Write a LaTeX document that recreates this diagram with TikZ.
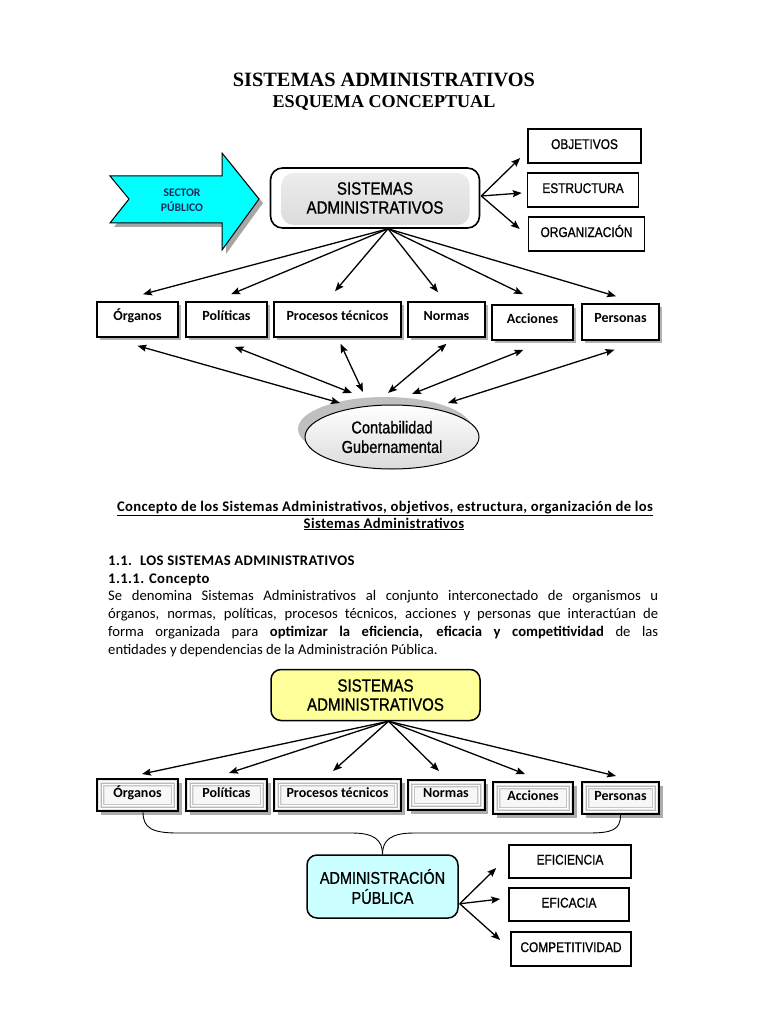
\documentclass[tikz,border=0pt]{standalone}
\usepackage{fontspec}
\setmainfont{Carlito}
\newfontfamily\nar[FakeStretch=0.85,FakeBold=0.9]{Liberation Sans}
\newfontfamily\ser{Liberation Serif}
\usetikzlibrary{arrows.meta,calc,shapes.geometric,shadows}
\definecolor{cyanA}{HTML}{00FFFF}
\definecolor{yelA}{HTML}{FFFF99}
\definecolor{cyanB}{HTML}{CCFFFF}
\definecolor{navyA}{HTML}{1F2A5C}
\pgfdeclareverticalshading{boxsh}{100bp}{color(0bp)=(white); color(4bp)=(white); color(12bp)=(gray!32); color(60bp)=(gray!18); color(100bp)=(gray!5)}
\begin{document}
\begin{tikzpicture}[x=1pt,y=-1pt,
  tarr/.style={line width=1.3pt,-{Stealth[length=9pt,width=7pt,inset=1.5pt]}},
  barr/.style={line width=1.3pt,{Stealth[length=9pt,width=7pt,inset=1.5pt]}-{Stealth[length=9pt,width=7pt,inset=1.5pt]}},
  rbox/.style={draw,line width=1.6pt,fill=white,inner sep=0pt,font=\nar\fontsize{14}{16}\selectfont,text height=10pt,text depth=4pt},
  sbox/.style={draw,line width=1.5pt,fill=white,inner sep=0pt,font=\bfseries\fontsize{14}{16}\selectfont,
    text height=10pt,text depth=9pt,
    drop shadow={shadow xshift=3pt,shadow yshift=-3pt,fill=gray!60,opacity=1}},
  bbox/.style={draw,line width=2pt,fill=gray!22,inner sep=0pt,font=\bfseries\fontsize{14}{16}\selectfont,
    text height=10pt,text depth=5pt,
    drop shadow={shadow xshift=3.5pt,shadow yshift=-3.5pt,fill=gray!65,opacity=1},
    path picture={
      \draw[white,line width=1pt] ([shift={(2.5pt,2.5pt)}]path picture bounding box.south west) rectangle ([shift={(-2.5pt,-2.5pt)}]path picture bounding box.north east);
      \draw[gray!55,line width=0.8pt] ([shift={(4pt,4pt)}]path picture bounding box.south west) rectangle ([shift={(-4pt,-4pt)}]path picture bounding box.north east);
      \draw[white,line width=0.8pt] ([shift={(5.4pt,5.4pt)}]path picture bounding box.south west) rectangle ([shift={(-5.4pt,-5.4pt)}]path picture bounding box.north east);
      \draw[gray!45,line width=0.8pt] ([shift={(6.8pt,6.8pt)}]path picture bounding box.south west) rectangle ([shift={(-6.8pt,-6.8pt)}]path picture bounding box.north east);
      \fill[gray!6] ([shift={(7.5pt,7.5pt)}]path picture bounding box.south west) rectangle ([shift={(-7.5pt,-7.5pt)}]path picture bounding box.north east);
    }},
  bigtxt/.style={font=\nar\fontsize{17.7}{19}\selectfont,align=center},
  bodytxt/.style={font=\fontsize{14.67}{18}\selectfont,inner sep=0pt},
  headtxt/.style={font=\bfseries\fontsize{14.67}{18}\selectfont\addfontfeature{LetterSpace=2.6},inner sep=0pt}
]
\fill[white] (0,0) rectangle (768,1024);
\useasboundingbox (0,0) rectangle (768,1024);

% ---------- titles
\node[font=\ser\bfseries\fontsize{20.3}{24}\selectfont,anchor=base,inner sep=0pt] (t1) at (384,87) {SISTEMAS ADMINISTRATIVOS};
\node[font=\ser\bfseries\fontsize{18.1}{22}\selectfont,anchor=base,inner sep=0pt] (t2) at (384,108) {ESQUEMA CONCEPTUAL};

% ---------- cyan arrow
\fill[gray!70,shift={(4,4)}] (110,176) -- (222,176) -- (222,153) -- (259,199) -- (222,250) -- (222,223) -- (110,223) -- (129,199) -- cycle;
\draw[fill=cyanA,line width=1pt] (110,176) -- (222,176) -- (222,153) -- (259,199) -- (222,250) -- (222,223) -- (110,223) -- (129,199) -- cycle;
\node[font=\bfseries\fontsize{11.6}{15}\selectfont,text=navyA,align=center] (sector) at (182,200) {SECTOR\\PÚBLICO};

% ---------- top box
\node[draw,line width=1.6pt,rounded corners=12pt,fill=white,minimum width=209pt,minimum height=60pt,inner sep=0pt,
  path picture={\shade[shading=boxsh] ([shift={(11pt,-5pt)}]path picture bounding box.north west) rectangle ([shift={(-10pt,3pt)}]path picture bounding box.south east);},
  bigtxt] (sa1) at (375,198) {SISTEMAS\\ADMINISTRATIVOS};

\node[rbox,minimum width=113pt,minimum height=34pt] (obj) at (584.5,146) {OBJETIVOS};
\node[rbox,minimum width=111pt,minimum height=34pt] (est) at (583,190) {ESTRUCTURA};
\node[rbox,minimum width=116pt,minimum height=34pt] (org) at (586.5,234) {ORGANIZACIÓN};

\coordinate (hubR) at ($(sa1.east)+(1,-2)$);
\draw[tarr] (hubR) -- ($(obj.west)+(-7,12)$);
\draw[tarr] (hubR) -- ($(est.west)+(-5,3)$);
\draw[tarr] (hubR) -- ($(org.west)+(-8,-5)$);

% ---------- row 1
\node[sbox,minimum width=81pt,minimum height=35pt] (org1) at (137.5,319.5) {Órganos};
\node[sbox,minimum width=81pt,minimum height=35pt] (pol1) at (226.5,319.5) {Políticas};
\node[sbox,minimum width=127pt,minimum height=35pt] (pro1) at (337.5,319.5) {Procesos técnicos};
\node[sbox,minimum width=77pt,minimum height=35pt] (nor1) at (446.5,319.5) {Normas};
\node[sbox,minimum width=81pt,minimum height=35pt] (acc1) at (532.5,322.5) {Acciones};
\node[sbox,minimum width=77pt,minimum height=36pt] (per1) at (620.5,322) {Personas};

\coordinate (hub1) at ($(sa1.south)+(13,0)$);
\draw[tarr] (hub1) -- ($(org1.north)+(5.5,-7)$);
\draw[tarr] (hub1) -- ($(pol1.north)+(4.5,-7)$);
\draw[tarr] (hub1) -- ($(pro1.north)+(-2.5,-10)$);
\draw[tarr] (hub1) -- ($(nor1.north)+(-8.5,-9)$);
\draw[tarr] (hub1) -- ($(acc1.north)+(-9.5,-10)$);
\draw[tarr] (hub1) -- ($(per1.north)+(-4.5,-7)$);

% ---------- ellipse
\node[ellipse,fill=gray!50,minimum width=174pt,minimum height=64pt,inner sep=0pt] (cgs) at (385,429) {};
\node[ellipse,draw,line width=1pt,top color=white,bottom color=gray!28,minimum width=174pt,minimum height=64pt,inner sep=0pt,
  font=\nar\fontsize{17.2}{19.5}\selectfont,align=center] (cg) at (392,437) {Contabilidad\\Gubernamental};

\draw[barr] ($(org1.south)+(0,8)$) -- ($(cg.center)+(-52,-34)$);
\draw[barr] ($(pol1.south)+(8,9)$) -- ($(cg.center)+(-40,-44)$);
\draw[barr] ($(pro1.south)+(3,6)$) -- ($(cg.center)+(-29,-45)$);
\draw[barr] ($(nor1.south)+(0,6)$) -- ($(cg.center)+(-4,-44)$);
\draw[barr] ($(acc1.south)+(-9,9)$) -- ($(cg.center)+(20,-43)$);
\draw[barr] ($(per1.south)+(-6,9)$) -- ($(cg.center)+(56,-34)$);

% ---------- text
\node[headtxt,anchor=base] (h1) at (385,511) {\underline{Concepto de los Sistemas Administrativos, objetivos, estructura, organización de los}};
\node[headtxt,anchor=base] (h2) at (384,528) {\underline{Sistemas Administrativos}};
\node[headtxt,anchor=base west] (s1) at (108,565) {1.1.\hspace{8pt}LOS SISTEMAS ADMINISTRATIVOS};
\node[headtxt,anchor=base west] (s2) at (108,583) {1.1.1. Concepto};
\node[bodytxt,anchor=base west] (p1) at (108,600) {\makebox[550pt][s]{Se denomina Sistemas Administrativos al conjunto interconectado de organismos u}};
\node[bodytxt,anchor=base west] (p2) at (108,618.3) {\makebox[550pt][s]{órganos, normas, políticas, procesos técnicos, acciones y personas que interactúan de}};
\node[bodytxt,anchor=base west] (p3) at (108,636.6) {\makebox[550pt][s]{forma organizada para \textbf{optimizar la eficiencia, eficacia y competitividad} de las}};
\node[bodytxt,anchor=base west] (p4) at (108,654.9) {entidades y dependencias de la Administración Pública.};

% ---------- second diagram
\node[draw,line width=1.5pt,rounded corners=10pt,fill=yelA,minimum width=209pt,minimum height=51pt,inner sep=0pt,bigtxt] (sa2) at (375.5,695) {SISTEMAS\\ADMINISTRATIVOS};

\node[bbox,minimum width=81pt,minimum height=32pt] (org2) at (137.5,795) {Órganos};
\node[bbox,minimum width=81pt,minimum height=32pt] (pol2) at (226.5,795) {Políticas};
\node[bbox,minimum width=127pt,minimum height=32pt] (pro2) at (337.5,795) {Procesos técnicos};
\node[bbox,minimum width=77pt,minimum height=30pt] (nor2) at (446,795) {Normas};
\node[bbox,minimum width=80pt,minimum height=32pt] (acc2) at (533,798) {Acciones};
\node[bbox,minimum width=77pt,minimum height=32pt] (per2) at (620.5,798) {Personas};

\coordinate (hub2) at ($(sa2.south)+(13,0)$);
\draw[tarr] (hub2) -- ($(org2.north)+(4.5,-4)$);
\draw[tarr] (hub2) -- ($(pol2.north)+(2.5,-5)$);
\draw[tarr] (hub2) -- ($(pro2.north)+(-4.5,-7)$);
\draw[tarr] (hub2) -- ($(nor2.north)+(-7,-8)$);
\draw[tarr] (hub2) -- ($(acc2.north)+(-8,-7)$);
\draw[tarr] (hub2) -- ($(per2.north)+(-4.5,-5)$);

\node[draw,line width=1.5pt,rounded corners=10pt,fill=cyanB,minimum width=151pt,minimum height=63pt,inner sep=0pt,
  font=\nar\fontsize{17}{20}\selectfont,align=center] (adm) at (382.5,886.5) {ADMINISTRACIÓN\\PÚBLICA};

\draw[line width=0.9pt] ($(org2.south)+(5.5,0)$) .. controls (143,828) and (152,833) .. (178,833) -- (352,833) .. controls (374,833) and (382.5,840) .. (adm.north);
\draw[line width=0.9pt] (per2.south) .. controls (620.5,830) and (612,833) .. (588,833) -- (414,833) .. controls (391,833) and (382.5,840) .. (adm.north);

\node[rbox,minimum width=122pt,minimum height=33pt] (efi) at (570,861.5) {EFICIENCIA};
\node[rbox,minimum width=120pt,minimum height=33pt] (efa) at (569,904.5) {EFICACIA};
\node[rbox,minimum width=120pt,minimum height=34pt] (com) at (571,949) {COMPETITIVIDAD};

\coordinate (hubA) at ($(adm.south east)+(1,-15)$);
\draw[tarr] (hubA) -- ($(efi.west)+(-12,6.5)$);
\draw[tarr] (hubA) -- ($(efa.west)+(-8,-5.5)$);
\draw[tarr] (hubA) -- ($(com.west)+(-10,-9)$);
\end{tikzpicture}
\end{document}
